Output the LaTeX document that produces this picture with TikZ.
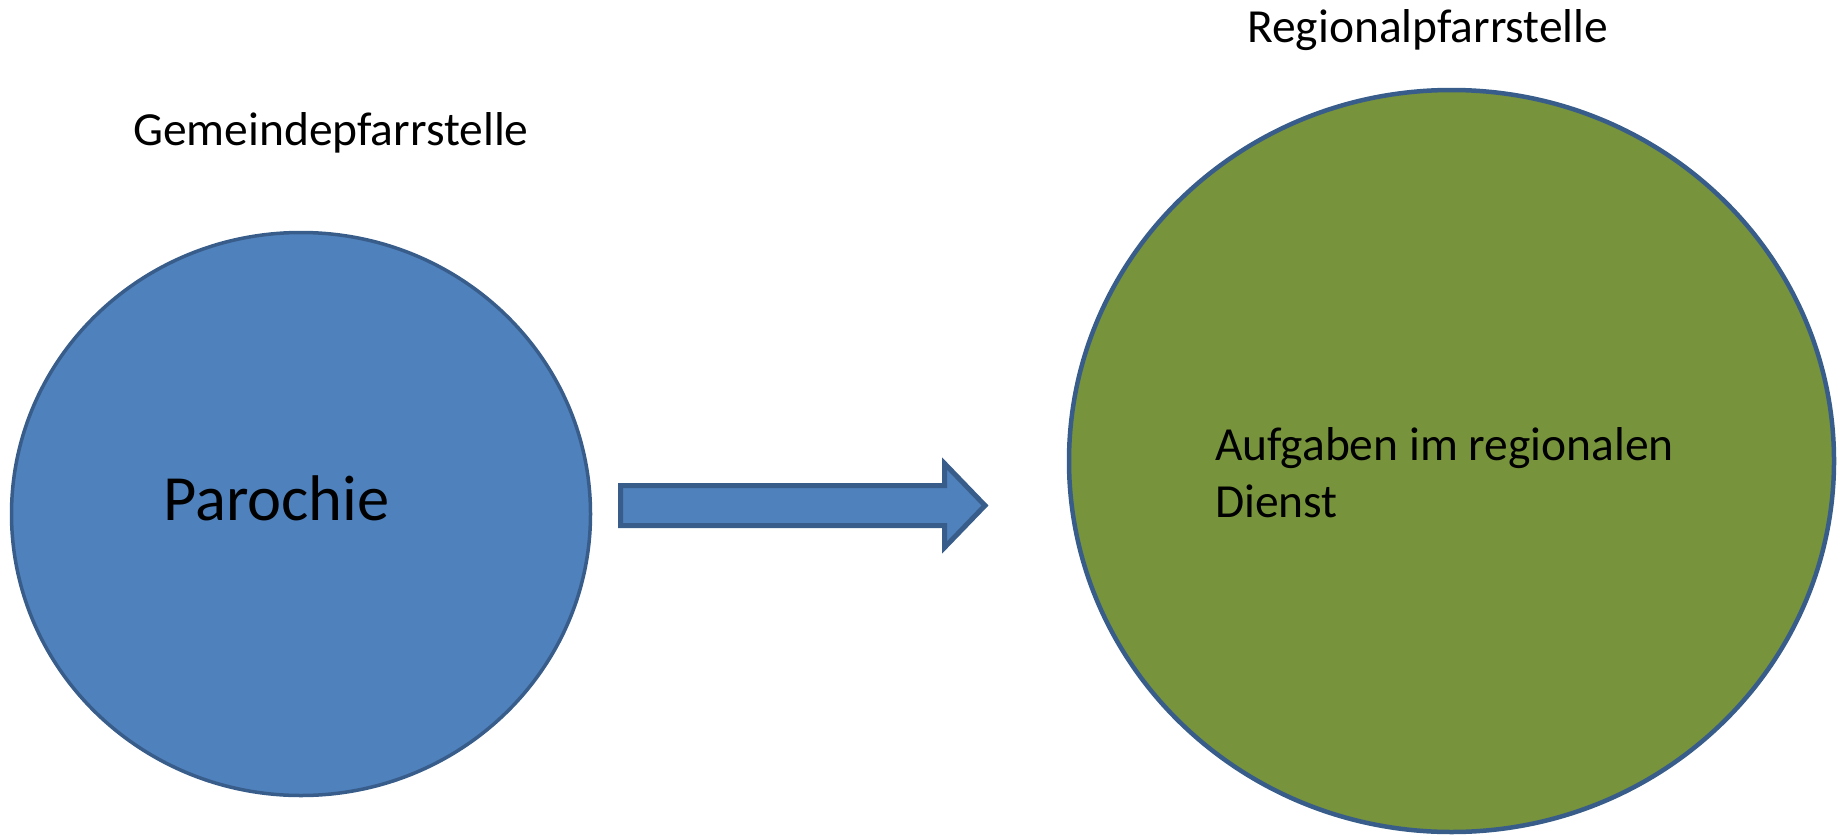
\documentclass[tikz,border=0pt]{standalone}
\usepackage{fontspec}
\setmainfont{Carlito}
\definecolor{blueFill}{HTML}{4F81BD}
\definecolor{blueLine}{HTML}{385D8A}
\definecolor{greenFill}{HTML}{77933C}
\begin{document}
\begin{tikzpicture}[x=1pt,y=-1pt,
  lbl/.style={inner sep=0pt,anchor=base west,font=\fontsize{47.5}{57}\selectfont},
  big/.style={inner sep=0pt,anchor=base west,font=\fontsize{64.5}{77}\selectfont},
  arrowshape/.style={fill=blueFill,draw=blueLine,line width=5pt,line join=miter}]
\useasboundingbox (0,0) rectangle (1838,835);
% circles
\draw[fill=blueFill,draw=blueLine,line width=3.5pt] (301,514) ellipse [x radius=289.5,y radius=281.5];
\draw[fill=greenFill,draw=blueLine,line width=4.5pt] (1451.5,461) ellipse [x radius=382.5,y radius=371];
\coordinate (left) at (301,514);
\coordinate (right) at (1451.5,461);
% texts
\node[lbl] (gem) at (133,145) {Gemeindepfarrstelle};
\node[lbl] (reg) at (1247,42) {Regionalpfarrstelle};
\node[big] (par) at (163,520) {Parochie};
\node[lbl] (auf1) at (1215,460) {Aufgaben im regionalen};
\node[lbl] (auf2) at (1215,517) {Dienst};
% block arrow
\coordinate (a1) at (620.5,485.5);
\coordinate (a2) at (944.5,485.5);
\coordinate (a3) at (944.5,463.5);
\coordinate (tip) at (985,505.5);
\coordinate (a5) at (944.5,547.5);
\coordinate (a6) at (944.5,525.5);
\coordinate (a7) at (620.5,525.5);
\draw[arrowshape] (a1) -- (a2) -- (a3) -- (tip) -- (a5) -- (a6) -- (a7) -- cycle;
\end{tikzpicture}
\end{document}
